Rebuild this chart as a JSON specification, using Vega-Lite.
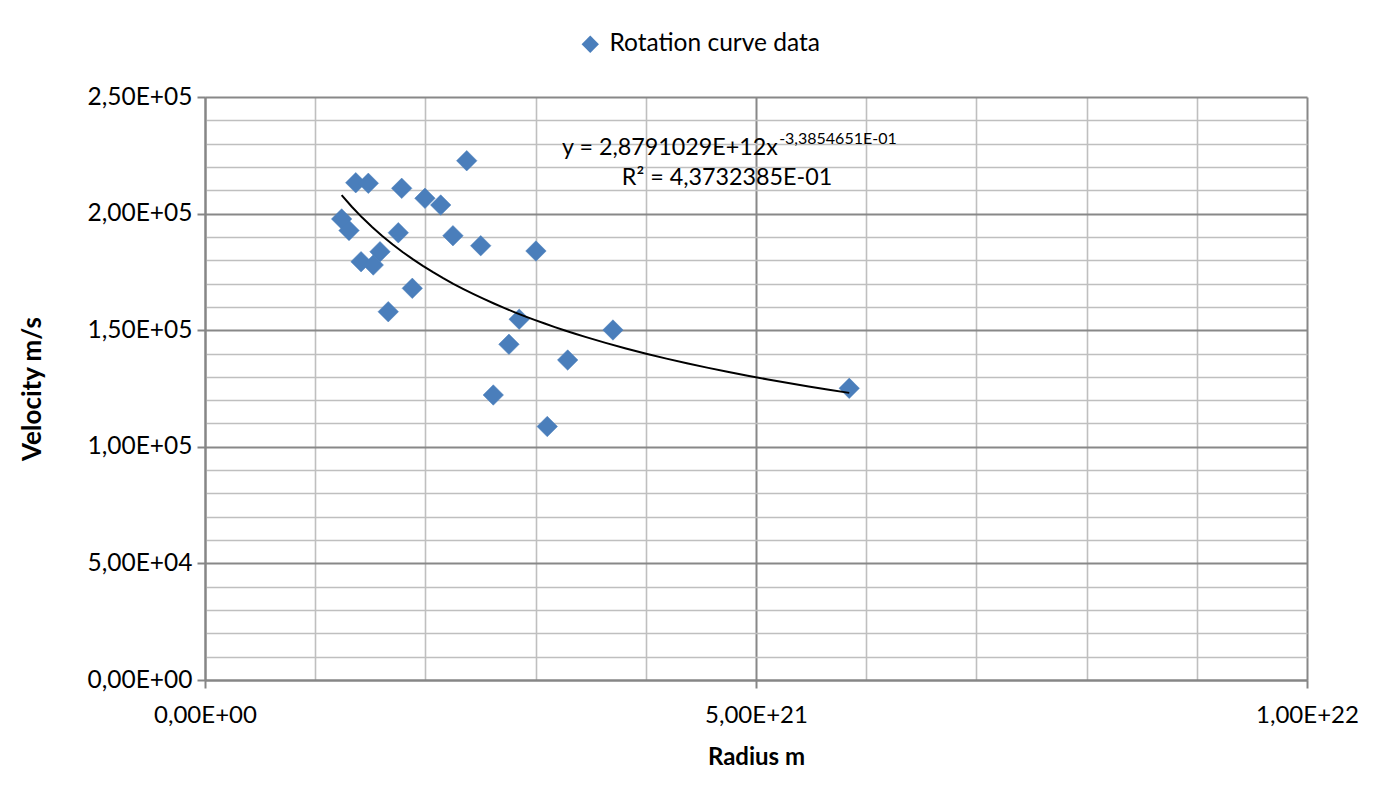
{
  "$schema": "https://vega.github.io/schema/vega-lite/v6.json",
  "width": 1102,
  "height": 583,
  "autosize": {"type": "none"},
  "padding": {"left": 205, "top": 97, "right": 87, "bottom": 120},
  "background": "white",
  "config": {"view": {"stroke": null}, "font": "Lato"},
  "data": {
    "values": [
      {"r": 1.240e21, "v": 197700},
      {"r": 1.307e21, "v": 192750},
      {"r": 1.368e21, "v": 213240},
      {"r": 1.416e21, "v": 179370},
      {"r": 1.482e21, "v": 212990},
      {"r": 1.527e21, "v": 177950},
      {"r": 1.588e21, "v": 183660},
      {"r": 1.663e21, "v": 157930},
      {"r": 1.754e21, "v": 191800},
      {"r": 1.785e21, "v": 210840},
      {"r": 1.881e21, "v": 167960},
      {"r": 1.996e21, "v": 206550},
      {"r": 2.139e21, "v": 203680},
      {"r": 2.250e21, "v": 190520},
      {"r": 2.375e21, "v": 222680},
      {"r": 2.502e21, "v": 186230},
      {"r": 2.616e21, "v": 122210},
      {"r": 2.758e21, "v": 143950},
      {"r": 2.851e21, "v": 154710},
      {"r": 3.003e21, "v": 183960},
      {"r": 3.106e21, "v": 108700},
      {"r": 3.291e21, "v": 137220},
      {"r": 3.702e21, "v": 150080},
      {"r": 5.846e21, "v": 125080}
    ]
  },
  "layer": [
    {
      "mark": {"type": "point", "filled": true, "size": 420, "opacity": 1, "shape": "diamond", "stroke": "#4a7ebb", "strokeWidth": 0.5},
      "encoding": {
        "x": {
          "field": "r", "type": "quantitative",
          "scale": {"domain": [0, 1e22], "nice": false, "zero": true},
          "axis": {
            "values": [0, 1e21, 2e21, 3e21, 4e21, 5e21, 6e21, 7e21, 8e21, 9e21, 1e22],
            "title": "Radius m",
            "titleFontWeight": "bold", "titleFontSize": 24, "titlePadding": 18, "titleColor": "black",
            "labelFontSize": 24, "labelPadding": 15, "labelColor": "black", "labelFlush": false, "labelOverlap": false,
            "domainColor": "#868686", "domainWidth": 2,
            "tickColor": "#868686", "tickSize": 8, "tickWidth": 2,
            "tickOpacity": {"condition": {"test": "datum.value % 5e21 == 0", "value": 1}, "value": 0},
            "grid": true,
            "gridColor": {"condition": {"test": "datum.value % 5e21 == 0", "value": "#888888"}, "value": "#bfbfbf"},
            "gridWidth": {"condition": {"test": "datum.value % 5e21 == 0", "value": 2}, "value": 1.6},
            "labelExpr": "datum.value % 5e21 == 0 ? (datum.value == 0 ? '0,00E+00' : replace(format(datum.value / pow(10, floor(log(datum.value)/LN10 + 1e-9)), '.2f'), '.', ',') + 'E+' + (floor(log(datum.value)/LN10 + 1e-9) < 10 ? '0' : '') + floor(log(datum.value)/LN10 + 1e-9)) : ''"
          }
        },
        "y": {
          "field": "v", "type": "quantitative",
          "scale": {"domain": [0, 250000], "nice": false, "zero": true},
          "axis": {
            "tickCount": 25,
            "title": "Velocity m/s",
            "titleFontWeight": "bold", "titleFontSize": 26, "titlePadding": 42, "titleColor": "black",
            "labelFontSize": 24.5, "labelPadding": 5, "labelColor": "black", "labelFlush": false, "labelOverlap": false,
            "domainColor": "#868686", "domainWidth": 2,
            "tickColor": "#868686", "tickSize": 8, "tickWidth": 2,
            "tickOpacity": {"condition": {"test": "datum.value % 50000 == 0", "value": 1}, "value": 0},
            "grid": true,
            "gridColor": {"condition": {"test": "datum.value % 50000 == 0", "value": "#888888"}, "value": "#bfbfbf"},
            "gridWidth": {"condition": {"test": "datum.value % 50000 == 0", "value": 2}, "value": 1.6},
            "labelExpr": "datum.value % 50000 == 0 ? (datum.value == 0 ? '0,00E+00' : replace(format(datum.value / pow(10, floor(log(datum.value)/LN10 + 1e-9)), '.2f'), '.', ',') + 'E+' + (floor(log(datum.value)/LN10 + 1e-9) < 10 ? '0' : '') + floor(log(datum.value)/LN10 + 1e-9)) : ''"
          }
        },
        "color": {
          "datum": "Rotation curve data",
          "scale": {"range": ["#4a7ebb"]},
          "legend": {
            "title": null, "orient": "none", "legendX": 373, "legendY": -65,
            "labelFontSize": 24.5, "labelColor": "black", "labelOffset": 7, "symbolSize": 300, "symbolType": "diamond", "labelLimit": 0, "symbolStrokeWidth": 0
          }
        },
        "shape": {"datum": "Rotation curve data", "scale": {"range": ["diamond"]}}
      }
    },
    {
      "transform": [{"regression": "v", "on": "r", "method": "pow"}],
      "mark": {"type": "line", "color": "black", "strokeWidth": 2},
      "encoding": {
        "x": {"field": "r", "type": "quantitative"},
        "y": {"field": "v", "type": "quantitative"}
      }
    },
    {
      "data": {"values": [{"t": "y = 2,8791029E+12x"}]},
      "mark": {"type": "text", "align": "right", "baseline": "middle", "fontSize": 23.3, "color": "black"},
      "encoding": {
        "x": {"datum": 5.199e21, "type": "quantitative"},
        "y": {"datum": 228120, "type": "quantitative"},
        "text": {"field": "t"}
      }
    },
    {
      "data": {"values": [{"t": "-3,3854651E-01"}]},
      "mark": {"type": "text", "align": "left", "baseline": "middle", "fontSize": 16, "color": "black"},
      "encoding": {
        "x": {"datum": 5.21e21, "type": "quantitative"},
        "y": {"datum": 232000, "type": "quantitative"},
        "text": {"field": "t"}
      }
    },
    {
      "data": {"values": [{"t": "R² = 4,3732385E-01"}]},
      "mark": {"type": "text", "align": "center", "baseline": "middle", "fontSize": 23.3, "color": "black"},
      "encoding": {
        "x": {"datum": 4.737e21, "type": "quantitative"},
        "y": {"datum": 215260, "type": "quantitative"},
        "text": {"field": "t"}
      }
    }
  ]
}
